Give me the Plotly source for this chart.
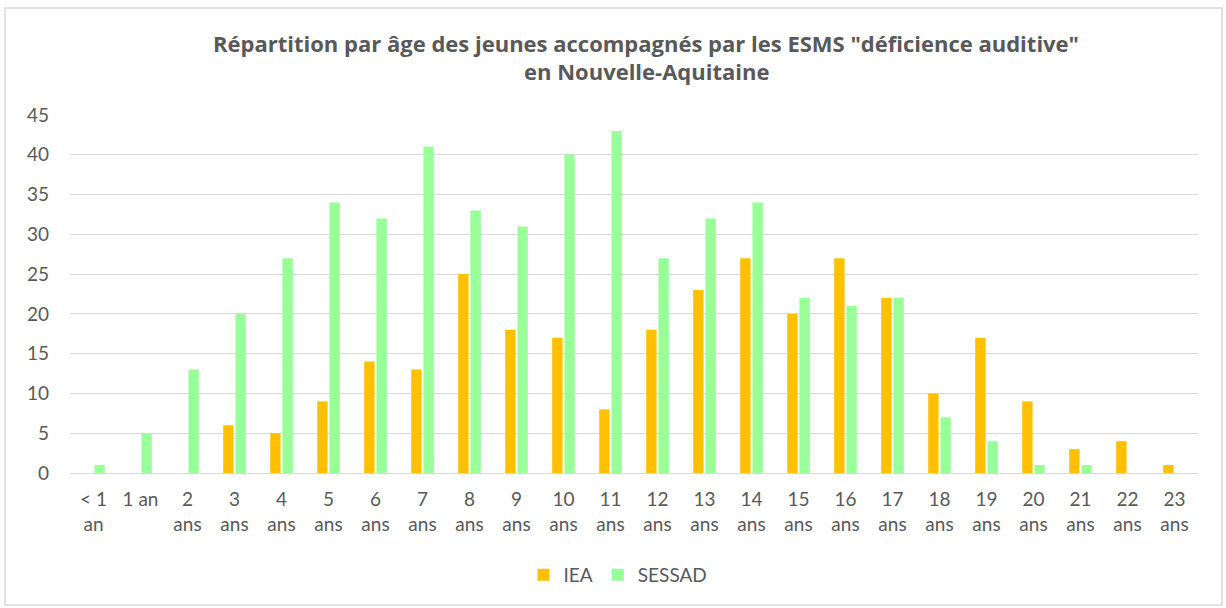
import plotly.graph_objects as go

categories = ["< 1<br>an", "1 an", "2<br>ans", "3<br>ans", "4<br>ans", "5<br>ans", "6<br>ans",
              "7<br>ans", "8<br>ans", "9<br>ans", "10<br>ans", "11<br>ans", "12<br>ans",
              "13<br>ans", "14<br>ans", "15<br>ans", "16<br>ans", "17<br>ans", "18<br>ans",
              "19<br>ans", "20<br>ans", "21<br>ans", "22<br>ans", "23<br>ans"]
iea = [0, 0, 0, 6, 5, 9, 14, 13, 25, 18, 17, 8, 18, 23, 27, 20, 27, 22, 10, 17, 9, 3, 4, 1]
sessad = [1, 5, 13, 20, 27, 34, 32, 41, 33, 31, 40, 43, 27, 32, 34, 22, 21, 22, 7, 4, 1, 1, 0, 0]
y_ticks = [0, 5, 10, 15, 20, 25, 30, 35, 40, 45]

title_line1 = "Répartition par âge des jeunes accompagnés par les ESMS \"déficience auditive\""
title_line2 = "en Nouvelle-Aquitaine"

tick_font = "Lato"
title_font = "Open Sans"
grey = "#595959"

fig = go.Figure()
fig.add_trace(go.Bar(x=categories, y=iea, name="IEA", marker_color="#FFC000",
                     marker_line_width=0))
fig.add_trace(go.Bar(x=categories, y=sessad, name="SESSAD", marker_color="#99FF99",
                     marker_line_width=0))

L, R, T, B = 70, 28, 115, 135
W, H = 1226, 608
pw, ph = W - L - R, H - T - B

def py(pix):
    return (H - B - pix) / ph

fig.update_layout(
    width=W, height=H,
    margin=dict(l=L, r=R, t=T, b=B),
    paper_bgcolor="white", plot_bgcolor="white",
    barmode="group", bargap=0.48, bargroupgap=0.15,
    font=dict(family=tick_font, color=grey, size=19),
    legend=dict(orientation="h", x=(618 - L) / pw, xanchor="center", y=py(575), yanchor="middle",
                font=dict(family=tick_font, size=19, color=grey), itemwidth=30,
                traceorder="normal"),
    xaxis=dict(type="category", showgrid=False, showline=True, linecolor="#D9D9D9",
               ticks="", tickfont=dict(family=tick_font, size=19, color=grey), tickangle=0,
               ticklabelstandoff=9),
    yaxis=dict(range=[0, 45], tickvals=y_ticks, showgrid=True, gridcolor="#D9D9D9",
               zeroline=False, showline=False, ticks="", ticklabelstandoff=20,
               tickfont=dict(family=tick_font, size=19, color=grey)),
    annotations=[
        dict(text=title_line1, xref="paper", yref="paper", x=(646 - L) / pw, y=py(43),
             xanchor="center", yanchor="middle", showarrow=False,
             font=dict(family=title_font, size=22, color=grey, weight="bold")),
        dict(text=title_line2, xref="paper", yref="paper", x=(646 - L) / pw, y=py(71),
             xanchor="center", yanchor="middle", showarrow=False,
             font=dict(family=title_font, size=22, color=grey, weight="bold")),
    ],
    shapes=[dict(type="rect", xref="paper", yref="paper",
                 x0=(5 - L) / pw, x1=(1222 - L) / pw,
                 y0=py(605), y1=py(8),
                 line=dict(color="#D9D9D9", width=1.5), fillcolor="rgba(0,0,0,0)", layer="below")],
)

fig.write_html("out.html", config={"displayModeBar": False},
               post_script="document.body.style.margin='0';")
